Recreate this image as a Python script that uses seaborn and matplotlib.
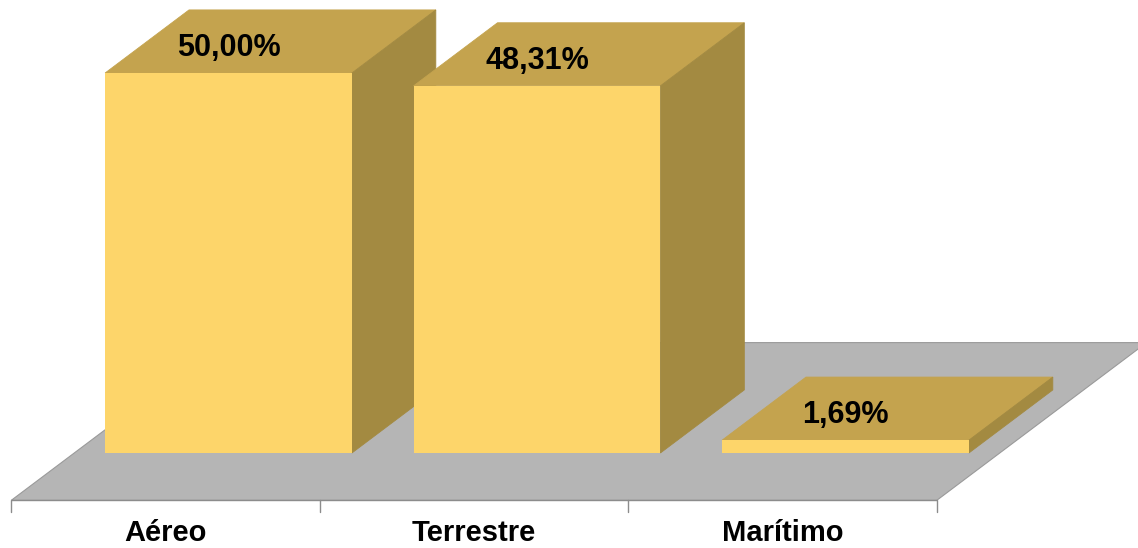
import matplotlib
matplotlib.use("Agg")
import matplotlib.pyplot as plt
from matplotlib.patches import Polygon
import seaborn as sns
import pandas as pd

# Transport mode shares (%)
categories = ["Aéreo", "Terrestre", "Marítimo"]
shares = [50.00, 48.31, 1.69]

front_color = "#FDD56A"
top_color = "#C4A34E"
side_color = "#A38A41"
floor_color = "#B5B5B5"

# depth vector of the pseudo-3D projection (category units, percent units)
DX, DY = 0.272, 8.3

sns.set_theme(style="white")
plt.rcParams["font.family"] = ["Liberation Sans", "DejaVu Sans"]

df = pd.DataFrame({"modo": categories, "pct": shares})

fig = plt.figure(figsize=(11.38, 5.48), dpi=100)
ax = fig.add_axes([0, 0, 1, 1])
sns.barplot(data=df, x="modo", y="pct", color=front_color, saturation=1,
            width=0.8, ax=ax, linewidth=0)

n = len(categories)
# floor plane under the bars, spanning the category slots
k0, k1 = -0.75, 1.75
x_lo, x_hi = -0.5, n - 0.5
floor = Polygon([(x_lo + k0 * DX, k0 * DY), (x_hi + k0 * DX, k0 * DY),
                 (x_hi + k1 * DX, k1 * DY), (x_lo + k1 * DX, k1 * DY)],
                closed=True, facecolor=floor_color, edgecolor="#9a9a9a",
                linewidth=0.8, zorder=1)
ax.add_patch(floor)

# front axis line with tick marks
ax.plot([x_lo + k0 * DX, x_hi + k0 * DX], [k0 * DY, k0 * DY],
        color="#8c8c8c", linewidth=1, zorder=2, solid_capstyle="butt")
for b in range(n + 1):
    xb = x_lo + b + k0 * DX
    ax.plot([xb, xb], [k0 * DY, k0 * DY - 1.5], color="#8c8c8c",
            linewidth=1, zorder=2)

for i, (bar, v) in enumerate(zip(ax.containers[0], shares)):
    x0 = bar.get_x()
    x1 = x0 + bar.get_width()
    h = bar.get_height()
    z = 3 + i
    bar.set_zorder(z + 0.2)
    top = Polygon([(x0, h), (x1, h), (x1 + DX, h + DY), (x0 + DX, h + DY)],
                  closed=True, facecolor=top_color, edgecolor=top_color,
                  linewidth=0.6, zorder=z)
    side = Polygon([(x1, 0), (x1 + DX, DY), (x1 + DX, h + DY), (x1, h)],
                   closed=True, facecolor=side_color, edgecolor=side_color,
                   linewidth=0.6, zorder=z + 0.1)
    ax.add_patch(top)
    ax.add_patch(side)
    label = f"{v:.2f}".replace(".", ",") + "%"
    ax.text((x0 + x1) / 2, h + DY / 2 - 1.9, label, ha="center",
            va="baseline", fontsize=22, fontweight="bold", color="black",
            zorder=z + 0.5)

# category names centred under each floor slot
for i, cat in enumerate(categories):
    ax.text(i + k0 * DX, -11.55, cat, ha="center", va="baseline",
            fontsize=21, fontweight="bold", color="black")

px_per_cat = 308.5
px_per_pct = 7.6
ax.set_xlim(-228.5 / px_per_cat, (1138 - 228.5) / px_per_cat)
ax.set_ylim(-95 / px_per_pct, (548 - 95) / px_per_pct)
ax.axis("off")

fig.savefig("out.png", dpi=100)
